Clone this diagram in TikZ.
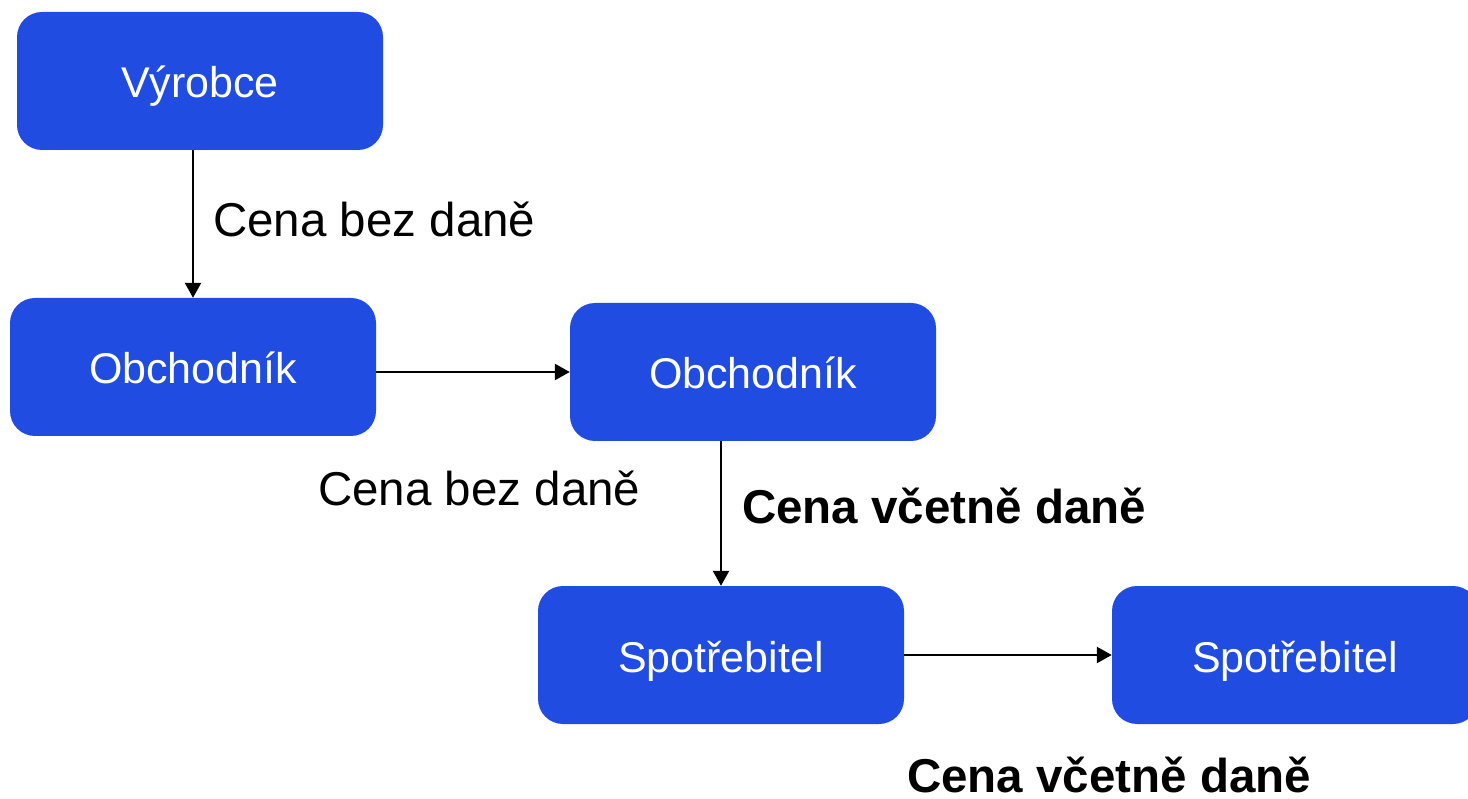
\documentclass[tikz,border=0pt]{standalone}
\usepackage{fontspec}
\setmainfont{Liberation Sans}
\usetikzlibrary{arrows.meta}
\definecolor{boxblue}{RGB}{33,76,226}
\tikzset{
  box/.style={rectangle, rounded corners=25pt, fill=boxblue, draw=none,
    minimum width=366pt, minimum height=138pt, inner sep=0pt,
    text height=40pt, text depth=6pt,
    text=white, font=\fontsize{43pt}{50pt}\selectfont},
  lbl/.style={anchor=base west, inner sep=0pt, font=\fontsize{47.5pt}{55pt}\selectfont},
  blbl/.style={lbl, font=\fontsize{47.5pt}{55pt}\selectfont\bfseries},
  conn/.style={draw=black, line width=2.4pt, -{Triangle[length=15pt,width=16pt]}}
}
\begin{document}
\begin{tikzpicture}[x=1pt,y=-1pt]
\clip (0,0) rectangle (1468,799);
\useasboundingbox (0,0) rectangle (1468,799);
\node[box] (v) at (200,81) {Výrobce};
\node[box] (o1) at (193,367) {Obchodník};
\node[box] (o2) at (753,372) {Obchodník};
\node[box] (s1) at (721,655) {Spotřebitel};
\node[box] (s2) at (1295,655) {Spotřebitel};
\draw[conn] (v.south -| o1.center) -- (o1.north);
\draw[conn] (o1.east |- o2.center) -- (o2.west);
\draw[conn] (o2.south -| s1.center) -- (s1.north);
\draw[conn] (s1.east) -- (s2.west);
\node[lbl] (l1) at (213,237) {Cena bez daně};
\node[lbl] (l2) at (318,505) {Cena bez daně};
\node[blbl] (l3) at (742,523) {Cena včetně daně};
\node[blbl] (l4) at (907,792) {Cena včetně daně};
\end{tikzpicture}
\end{document}
